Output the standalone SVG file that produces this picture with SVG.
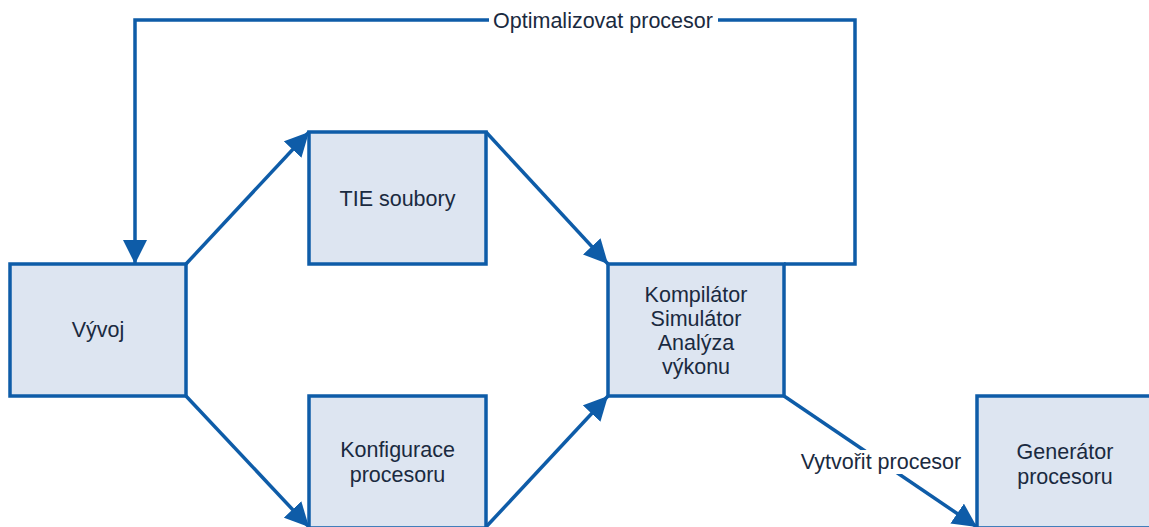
<svg xmlns="http://www.w3.org/2000/svg" width="1149" height="527" viewBox="0 0 1149 527">
<style>
.box{fill:#dde5f1;stroke:#0e5ca8;stroke-width:3.5}
.t{font-family:"Liberation Sans",Arial,sans-serif;font-size:21.5px;fill:#1a2a40;text-anchor:middle}
.c{fill:none;stroke:#0e5ca8;stroke-width:3.5}
.bg{fill:#ffffff}
</style>
<defs>
<marker id="ah" viewBox="0 0 10 10" refX="10" refY="5" markerWidth="24" markerHeight="24" markerUnits="userSpaceOnUse" orient="auto">
<path d="M0,0 L10,5 L0,10 z" fill="#0e5ca8"/>
</marker>
</defs>
<g id="connectors">
<path class="c" d="M784,264 L855,264 L855,20 L135,20 L135,264" marker-end="url(#ah)"/>
<path class="c" d="M186,264 L309,132" marker-end="url(#ah)"/>
<path class="c" d="M186,396 L309,527" marker-end="url(#ah)"/>
<path class="c" d="M486,132 L608,264" marker-end="url(#ah)"/>
<path class="c" d="M486,527 L608,396" marker-end="url(#ah)"/>
<path class="c" d="M784,396 L977,527" marker-end="url(#ah)"/>
<rect class="bg" x="489" y="8" width="229" height="24"/>
<text class="t" x="603" y="28">Optimalizovat procesor</text>
<rect class="bg" x="799" y="450" width="164" height="24"/>
<text class="t" x="881" y="469">Vytvořit procesor</text>
</g>
<g id="vyvoj">
<rect class="box" x="10" y="264" width="176" height="132"/>
<text class="t" x="98" y="337">Vývoj</text>
</g>
<g id="tie">
<rect class="box" x="309" y="132" width="177" height="132"/>
<text class="t" x="397.5" y="206">TIE soubory</text>
</g>
<g id="konfigurace">
<rect class="box" x="309" y="396" width="177" height="132"/>
<text class="t" x="397.5" y="457">Konfigurace</text>
<text class="t" x="397.5" y="482">procesoru</text>
</g>
<g id="kompilator">
<rect class="box" x="608" y="264" width="176" height="132"/>
<text class="t" x="696" y="302">Kompilátor</text>
<text class="t" x="696" y="326">Simulátor</text>
<text class="t" x="696" y="350">Analýza</text>
<text class="t" x="696" y="374">výkonu</text>
</g>
<g id="generator">
<rect class="box" x="977" y="396" width="176" height="132"/>
<text class="t" x="1065" y="459">Generátor</text>
<text class="t" x="1065" y="484">procesoru</text>
</g>
</svg>
